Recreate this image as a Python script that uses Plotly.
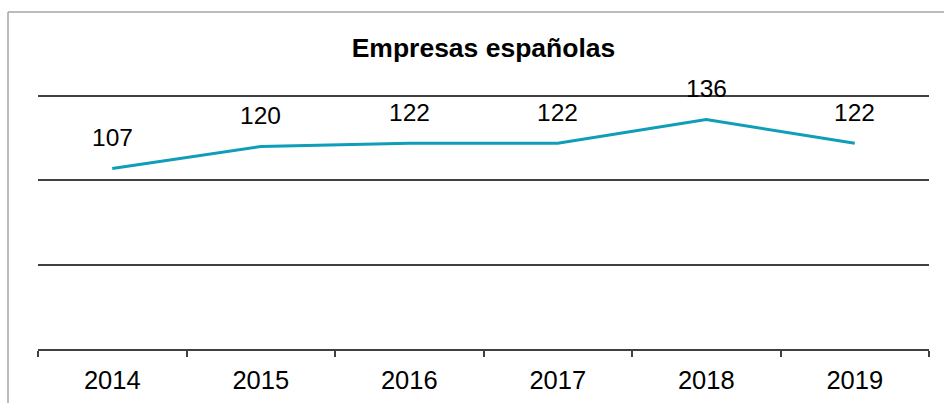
import plotly.graph_objects as go

years = ["2014", "2015", "2016", "2017", "2018", "2019"]
values = [107, 120, 122, 122, 136, 122]
title_text = "Empresas españolas"

FONT = "Liberation Sans, Arial, sans-serif"

fig = go.Figure()
fig.add_trace(go.Scatter(
    x=years, y=values, mode="lines",
    line=dict(color="#0f9db8", width=3),
    hoverinfo="skip", showlegend=False,
))

for i, v in enumerate(values):
    fig.add_annotation(x=i, y=v, xref="x", yref="y", text=str(v), showarrow=False,
                       yshift=31, font=dict(family=FONT, size=24.5, color="#000000"))

# outer chart border (left and top)
fig.add_shape(type="line", xref="paper", yref="paper",
              x0=(8 - 38) / 891, x1=(8 - 38) / 891,
              y0=(349 - 420) / 254, y1=(349 - 12) / 254,
              line=dict(color="#a6a6a6", width=1.5))
fig.add_shape(type="line", xref="paper", yref="paper",
              x0=(8 - 38) / 891, x1=(960 - 38) / 891,
              y0=(349 - 12) / 254, y1=(349 - 12) / 254,
              line=dict(color="#a6a6a6", width=1.5))

fig.update_layout(
    width=944, height=403,
    margin=dict(l=38, r=15, t=95, b=54, autoexpand=False),
    paper_bgcolor="white", plot_bgcolor="white",
    font=dict(family=FONT, size=20, color="#000000"),
    title=dict(text="<b>" + title_text + "</b>", x=483.5 / 944, xanchor="center",
               y=1 - 48 / 403, yanchor="middle",
               font=dict(family=FONT, size=26.5, color="#000000")),
    xaxis=dict(type="category", range=[-0.5, len(years) - 0.5],
               tickson="boundaries", ticks="outside", ticklen=6,
               tickcolor="#404040", tickwidth=1.5, tickangle=0,
               ticklabelstandoff=8,
               showline=True, linecolor="#404040", linewidth=1.5,
               showgrid=False, tickfont=dict(size=25.5), fixedrange=True),
    yaxis=dict(range=[0, 150.6], tickvals=[0, 50, 100, 150], showticklabels=False,
               showgrid=True, gridcolor="#404040", gridwidth=1.5,
               zeroline=False, showline=False, ticks="", fixedrange=True),
)

fig.write_html("out.html", config={"displayModeBar": False},
               post_script="document.body.style.margin='0';document.body.style.overflow='hidden';")
